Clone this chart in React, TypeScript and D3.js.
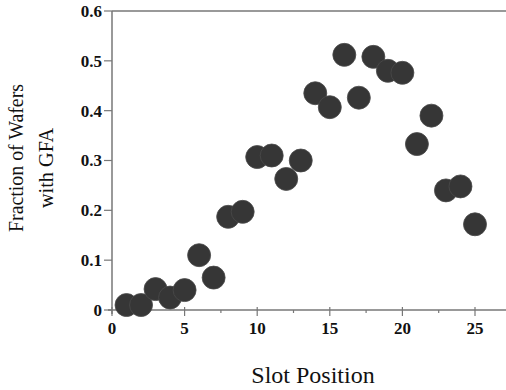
import React from "react";
import * as d3 from "d3";

const slots = [1,2,3,4,5,6,7,8,9,10,11,12,13,14,15,16,17,18,19,20,21,22,23,24,25];
const fractions = [0.01,0.01,0.042,0.025,0.04,0.11,0.065,0.187,0.197,0.307,0.31,0.263,0.30,0.435,0.407,0.512,0.426,0.508,0.48,0.476,0.333,0.39,0.24,0.248,0.172];
const yTicks = [0,0.1,0.2,0.3,0.4,0.5,0.6];
const yTickLabels = ["0","0.1","0.2","0.3","0.4","0.5","0.6"];
const xTicks = [0,5,10,15,20,25];
const xMinorTicks = [2.5,7.5,12.5,17.5,22.5];

export default function App() {
  const W = 506, H = 390;
  const left = 112, top = 11, bottom = 310, right = 506;
  const x = d3.scaleLinear().domain([0, 25]).range([left, 475]);
  const y = d3.scaleLinear().domain([0, 0.6]).range([bottom, top]);
  const serif = "Liberation Serif, DejaVu Serif, serif";
  const txt = { fontFamily: serif };
  return (
    <svg width={W} height={H} style={{ position: "absolute", left: 0, top: 0, background: "#fff" }}>
      {/* axes */}
      <line x1={left} x2={right} y1={top} y2={top} stroke="#777" strokeWidth={1.5} />
      <line x1={left} x2={left} y1={top} y2={bottom + 4} stroke="#777" strokeWidth={1.5} />
      <line x1={left - 4} x2={right} y1={bottom} y2={bottom} stroke="#777" strokeWidth={1.5} />
      {yTicks.map((t, i) => (
        <g key={"y" + i}>
          <line x1={left - 8} x2={left} y1={y(t)} y2={y(t)} stroke="#777" strokeWidth={1.2} />
          <text x={left - 10} y={y(t)} dy="0.35em" textAnchor="end" style={txt} fontWeight="bold" fontSize={17} fill="#111">
            {yTickLabels[i]}
          </text>
        </g>
      ))}
      {xTicks.map((t, i) => (
        <g key={"x" + i}>
          <line x1={x(t)} x2={x(t)} y1={bottom - 3} y2={bottom + 6} stroke="#777" strokeWidth={1.2} />
          <text x={x(t)} y={334} textAnchor="middle" style={txt} fontWeight="bold" fontSize={17} fill="#111">
            {t}
          </text>
        </g>
      ))}
      {xMinorTicks.map((t, i) => (
        <line key={"m" + i} x1={x(t)} x2={x(t)} y1={bottom} y2={bottom + 3} stroke="#777" strokeWidth={1.2} />
      ))}
      {/* points */}
      {slots.map((s, i) => (
        <circle key={"p" + i} cx={x(s)} cy={y(fractions[i])} r={11.5} fill="#363636" stroke="#4a4a4a" strokeWidth={0.8} />
      ))}
      {/* titles */}
      <text transform={`translate(23,158) rotate(-90)`} textAnchor="middle" style={txt} fontSize={21} fill="#111"
        textLength={148} lengthAdjust="spacingAndGlyphs">
        Fraction of Wafers
      </text>
      <text transform={`translate(53,168) rotate(-90)`} textAnchor="middle" style={txt} fontSize={21} fill="#111"
        textLength={80} lengthAdjust="spacingAndGlyphs">
        with GFA
      </text>
      <text x={313} y={383} textAnchor="middle" style={txt} fontSize={24} fill="#111">
        Slot Position
      </text>
    </svg>
  );
}
